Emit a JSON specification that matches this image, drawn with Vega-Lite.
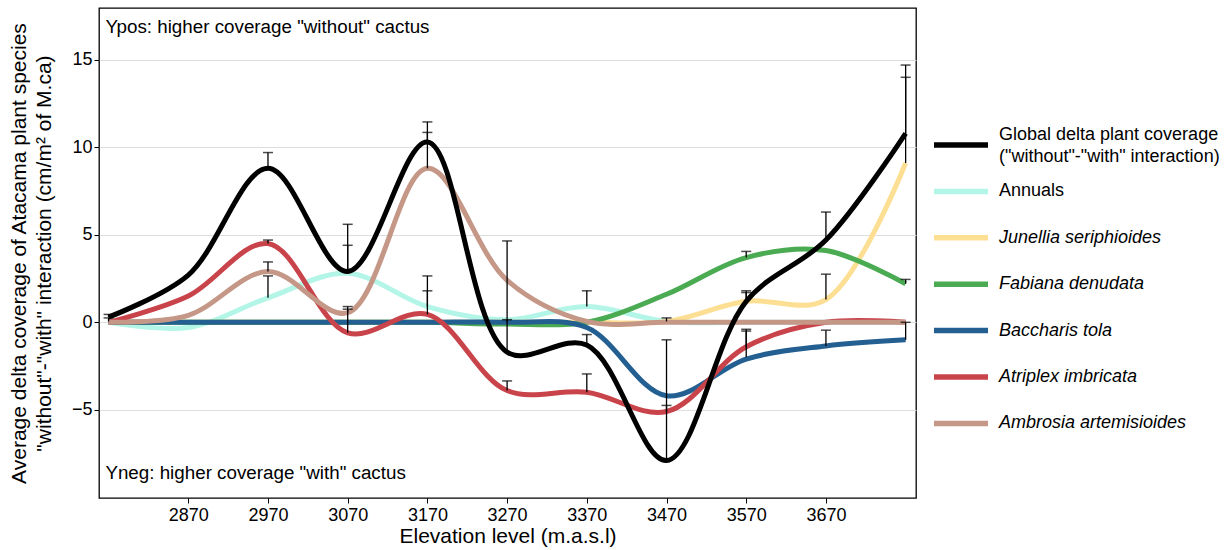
{
  "$schema": "https://vega.github.io/schema/vega-lite/v6.json",
  "width": 817,
  "height": 490,
  "autosize": {"type": "none"},
  "padding": {"left": 99, "top": 8, "right": 316, "bottom": 52},
  "background": "white",
  "config": {
    "font": "Liberation Sans",
    "view": {"stroke": "black", "strokeWidth": 1.3},
    "axis": {
      "domain": false,
      "tickColor": "black",
      "tickSize": 5,
      "labelColor": "black",
      "labelFontSize": 18,
      "labelFont": "Liberation Sans",
      "titleColor": "black",
      "titleFont": "Liberation Sans",
      "titleFontSize": 21,
      "titleFontWeight": "normal",
      "gridColor": "#dedede",
      "gridWidth": 1.2
    }
  },
  "datasets": {
    "curves": [
      {"series": "Annuals", "elevation": 2770, "delta": 0},
      {"series": "Annuals", "elevation": 2870, "delta": -0.3},
      {"series": "Annuals", "elevation": 2970, "delta": 1.4},
      {"series": "Annuals", "elevation": 3070, "delta": 2.8},
      {"series": "Annuals", "elevation": 3170, "delta": 0.9},
      {"series": "Annuals", "elevation": 3270, "delta": 0.15},
      {"series": "Annuals", "elevation": 3370, "delta": 0.9},
      {"series": "Annuals", "elevation": 3470, "delta": 0.05},
      {"series": "Annuals", "elevation": 3570, "delta": 0},
      {"series": "Annuals", "elevation": 3670, "delta": 0},
      {"series": "Annuals", "elevation": 3770, "delta": 0},
      {"series": "Junellia seriphioides", "elevation": 2770, "delta": 0},
      {"series": "Junellia seriphioides", "elevation": 2870, "delta": 0},
      {"series": "Junellia seriphioides", "elevation": 2970, "delta": 0},
      {"series": "Junellia seriphioides", "elevation": 3070, "delta": 0},
      {"series": "Junellia seriphioides", "elevation": 3170, "delta": 0},
      {"series": "Junellia seriphioides", "elevation": 3270, "delta": 0},
      {"series": "Junellia seriphioides", "elevation": 3370, "delta": 0},
      {"series": "Junellia seriphioides", "elevation": 3470, "delta": 0.05},
      {"series": "Junellia seriphioides", "elevation": 3570, "delta": 1.2},
      {"series": "Junellia seriphioides", "elevation": 3670, "delta": 1.3},
      {"series": "Junellia seriphioides", "elevation": 3770, "delta": 9.1},
      {"series": "Fabiana denudata", "elevation": 2770, "delta": 0},
      {"series": "Fabiana denudata", "elevation": 2870, "delta": 0},
      {"series": "Fabiana denudata", "elevation": 2970, "delta": 0},
      {"series": "Fabiana denudata", "elevation": 3070, "delta": 0},
      {"series": "Fabiana denudata", "elevation": 3170, "delta": 0},
      {"series": "Fabiana denudata", "elevation": 3270, "delta": -0.1},
      {"series": "Fabiana denudata", "elevation": 3370, "delta": 0},
      {"series": "Fabiana denudata", "elevation": 3470, "delta": 1.6},
      {"series": "Fabiana denudata", "elevation": 3570, "delta": 3.7},
      {"series": "Fabiana denudata", "elevation": 3670, "delta": 4.1},
      {"series": "Fabiana denudata", "elevation": 3770, "delta": 2.2},
      {"series": "Baccharis tola", "elevation": 2770, "delta": 0},
      {"series": "Baccharis tola", "elevation": 2870, "delta": 0},
      {"series": "Baccharis tola", "elevation": 2970, "delta": 0},
      {"series": "Baccharis tola", "elevation": 3070, "delta": 0},
      {"series": "Baccharis tola", "elevation": 3170, "delta": 0},
      {"series": "Baccharis tola", "elevation": 3270, "delta": 0},
      {"series": "Baccharis tola", "elevation": 3370, "delta": -0.3},
      {"series": "Baccharis tola", "elevation": 3470, "delta": -4.2},
      {"series": "Baccharis tola", "elevation": 3570, "delta": -2.1},
      {"series": "Baccharis tola", "elevation": 3670, "delta": -1.35},
      {"series": "Baccharis tola", "elevation": 3770, "delta": -1.0},
      {"series": "Atriplex imbricata", "elevation": 2770, "delta": 0},
      {"series": "Atriplex imbricata", "elevation": 2870, "delta": 1.5},
      {"series": "Atriplex imbricata", "elevation": 2970, "delta": 4.5},
      {"series": "Atriplex imbricata", "elevation": 3070, "delta": -0.6},
      {"series": "Atriplex imbricata", "elevation": 3170, "delta": 0.45},
      {"series": "Atriplex imbricata", "elevation": 3270, "delta": -3.9},
      {"series": "Atriplex imbricata", "elevation": 3370, "delta": -4.0},
      {"series": "Atriplex imbricata", "elevation": 3470, "delta": -5.1},
      {"series": "Atriplex imbricata", "elevation": 3570, "delta": -1.4},
      {"series": "Atriplex imbricata", "elevation": 3670, "delta": 0},
      {"series": "Atriplex imbricata", "elevation": 3770, "delta": 0},
      {"series": "Ambrosia artemisioides", "elevation": 2770, "delta": 0},
      {"series": "Ambrosia artemisioides", "elevation": 2870, "delta": 0.4},
      {"series": "Ambrosia artemisioides", "elevation": 2970, "delta": 2.9},
      {"series": "Ambrosia artemisioides", "elevation": 3070, "delta": 0.55},
      {"series": "Ambrosia artemisioides", "elevation": 3170, "delta": 8.8},
      {"series": "Ambrosia artemisioides", "elevation": 3270, "delta": 2.4},
      {"series": "Ambrosia artemisioides", "elevation": 3370, "delta": 0.05},
      {"series": "Ambrosia artemisioides", "elevation": 3470, "delta": 0},
      {"series": "Ambrosia artemisioides", "elevation": 3570, "delta": 0},
      {"series": "Ambrosia artemisioides", "elevation": 3670, "delta": 0},
      {"series": "Ambrosia artemisioides", "elevation": 3770, "delta": 0},
      {"series": "Global", "elevation": 2770, "delta": 0.3},
      {"series": "Global", "elevation": 2870, "delta": 2.7},
      {"series": "Global", "elevation": 2970, "delta": 8.8},
      {"series": "Global", "elevation": 3070, "delta": 2.9},
      {"series": "Global", "elevation": 3170, "delta": 10.3},
      {"series": "Global", "elevation": 3270, "delta": -1.7},
      {"series": "Global", "elevation": 3370, "delta": -1.3},
      {"series": "Global", "elevation": 3470, "delta": -7.9},
      {"series": "Global", "elevation": 3570, "delta": 1.2},
      {"series": "Global", "elevation": 3670, "delta": 4.7},
      {"series": "Global", "elevation": 3770, "delta": 10.8}
    ],
    "errors": [
      {"elevation": 2770, "delta": 0.3, "hi": 0.45},
      {"elevation": 2770, "delta": 0.05, "hi": 0.25},
      {"elevation": 2970, "delta": 8.8, "hi": 9.7},
      {"elevation": 2970, "delta": 4.5, "hi": 4.7},
      {"elevation": 2970, "delta": 2.9, "hi": 3.45},
      {"elevation": 2970, "delta": 1.4, "hi": 2.65},
      {"elevation": 3070, "delta": 2.9, "hi": 5.6},
      {"elevation": 3070, "delta": 2.8, "hi": 4.4},
      {"elevation": 3070, "delta": 0.55, "hi": 0.9},
      {"elevation": 3070, "delta": -0.6, "hi": 0.75},
      {"elevation": 3170, "delta": 10.3, "hi": 11.45},
      {"elevation": 3170, "delta": 8.8, "hi": 10.85},
      {"elevation": 3170, "delta": 0.9, "hi": 1.8},
      {"elevation": 3170, "delta": 0.45, "hi": 2.65},
      {"elevation": 3270, "delta": -1.7, "hi": 4.65},
      {"elevation": 3270, "delta": 0, "hi": 0.15},
      {"elevation": 3270, "delta": -3.9, "hi": -3.35},
      {"elevation": 3370, "delta": 0.9, "hi": 1.8},
      {"elevation": 3370, "delta": -1.3, "hi": -0.7},
      {"elevation": 3370, "delta": -4.0, "hi": -2.95},
      {"elevation": 3470, "delta": -7.9, "hi": -1.0},
      {"elevation": 3470, "delta": -5.1, "hi": -4.75},
      {"elevation": 3470, "delta": 0.05, "hi": 0.25},
      {"elevation": 3570, "delta": 3.7, "hi": 4.05},
      {"elevation": 3570, "delta": 1.2, "hi": 1.8},
      {"elevation": 3570, "delta": 1.2, "hi": 1.7},
      {"elevation": 3570, "delta": -1.4, "hi": -0.4},
      {"elevation": 3570, "delta": -2.0, "hi": -0.5},
      {"elevation": 3670, "delta": 4.7, "hi": 6.3},
      {"elevation": 3670, "delta": 1.3, "hi": 2.75},
      {"elevation": 3670, "delta": -1.35, "hi": -0.45},
      {"elevation": 3770, "delta": 10.8, "hi": 14.7},
      {"elevation": 3770, "delta": 9.1, "hi": 14.0},
      {"elevation": 3770, "delta": 2.2, "hi": 2.45},
      {"elevation": 3770, "delta": -1.0, "hi": 0.0}
    ],
    "notes": [
      {"elevation": 2766, "delta": 16.9, "label": "Ypos: higher coverage \"without\" cactus"},
      {"elevation": 2766, "delta": -8.6, "label": "Yneg: higher coverage \"with\" cactus"}
    ]
  },
  "layer": [
    {
      "data": {"name": "curves"},
      "mark": {"type": "line", "interpolate": "catmull-rom", "strokeWidth": 5},
      "encoding": {
        "x": {
          "field": "elevation", "type": "quantitative",
          "scale": {"domain": [2758, 3783], "nice": false, "zero": false},
          "axis": {"values": [2870, 2970, 3070, 3170, 3270, 3370, 3470, 3570, 3670], "format": "d", "grid": false, "title": "Elevation level (m.a.s.l)", "labelPadding": 3, "titlePadding": 1}
        },
        "y": {
          "field": "delta", "type": "quantitative",
          "scale": {"domain": [-10.04, 17.96], "nice": false, "zero": false},
          "axis": {"values": [-5, 0, 5, 10, 15], "grid": true, "labelPadding": 2, "titlePadding": 17, "titleLineHeight": 25,
            "title": ["Average delta coverage of Atacama plant species", "\"without\"-\"with\" interaction (cm/m² of M.ca)"]}
        },
        "color": {
          "field": "series", "type": "nominal",
          "scale": {
            "domain": ["Global", "Annuals", "Junellia seriphioides", "Fabiana denudata", "Baccharis tola", "Atriplex imbricata", "Ambrosia artemisioides"],
            "range": ["#000000", "#b3f5e6", "#fddf94", "#4aab52", "#245f91", "#c9434a", "#c49787"]
          },
          "legend": {
            "orient": "none", "legendX": 832, "legendY": 115,
            "title": null,
            "symbolType": "stroke", "symbolSize": 2916, "symbolStrokeWidth": 5.5,
            "labelFontSize": 18, "labelFont": "Liberation Sans", "labelColor": "black",
            "labelOffset": 8, "labelLimit": 320, "rowPadding": 2.4, "clipHeight": 44,
            "labelExpr": "datum.value == 'Global' ? ['Global delta plant coverage', '(\"without\"-\"with\" interaction)'] : datum.label",
            "encode": {"labels": {"update": {
              "fontStyle": {"signal": "datum.value == 'Global' || datum.value == 'Annuals' ? 'normal' : 'italic'"},
              "dy": {"signal": "datum.value == 'Global' ? -10 : 0"},
              "lineHeight": {"value": 22}
            }}}
          }
        }
      }
    },
    {
      "data": {"name": "errors"},
      "mark": {"type": "rule", "color": "black", "strokeWidth": 1.3},
      "encoding": {
        "x": {"field": "elevation", "type": "quantitative"},
        "y": {"field": "delta", "type": "quantitative"},
        "y2": {"field": "hi"}
      }
    },
    {
      "data": {"name": "errors"},
      "mark": {"type": "tick", "orient": "horizontal", "color": "black", "size": 10, "thickness": 1.5},
      "encoding": {
        "x": {"field": "elevation", "type": "quantitative"},
        "y": {"field": "hi", "type": "quantitative"}
      }
    },
    {
      "data": {"name": "notes"},
      "mark": {"type": "text", "align": "left", "baseline": "middle", "fontSize": 18.8, "font": "Liberation Sans", "color": "black"},
      "encoding": {
        "x": {"field": "elevation", "type": "quantitative"},
        "y": {"field": "delta", "type": "quantitative"},
        "text": {"field": "label"}
      }
    }
  ]
}
